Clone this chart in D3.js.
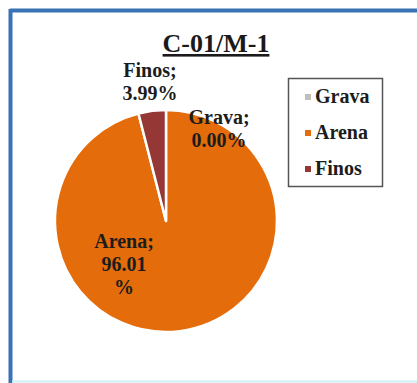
<!DOCTYPE html>
<html>
<head>
<meta charset="utf-8">
<script src="https://cdn.jsdelivr.net/npm/d3@7"></script>
<style>
  html, body { margin: 0; padding: 0; background: #ffffff; }
  svg { display: block; }
</style>
</head>
<body>
<svg id="chart" width="417" height="383"></svg>
<script>
// Soil fraction breakdown for sample C-01/M-1
const chartTitle = "C-01/M-1";
const categories = ["Grava", "Arena", "Finos"];
const percents = [0.00, 96.01, 3.99];
const labelTexts = [
  ["Grava;", "0.00%"],
  ["Arena;", "96.01", "%"],
  ["Finos;", "3.99%"]
];

const colors = ["#bfbfbf", "#e46c0a", "#953735"];

const W = 417, H = 383;
const svg = d3.select("#chart");

// frame
svg.append("rect").attr("x", 0).attr("y", 0).attr("width", W).attr("height", H).attr("fill", "#ffffff");
svg.append("line").attr("x1", 10).attr("x2", W).attr("y1", 10.5).attr("y2", 10.5)
  .attr("stroke", "#3a72b4").attr("stroke-width", 4);
svg.append("line").attr("x1", 10.5).attr("x2", 10.5).attr("y1", 9).attr("y2", 383)
  .attr("stroke", "#3a72b4").attr("stroke-width", 4);
svg.append("line").attr("x1", 12).attr("x2", W).attr("y1", 381.5).attr("y2", 381.5)
  .attr("stroke", "#c9f1f8").attr("stroke-width", 2);

// title
const title = svg.append("text")
  .attr("x", 216).attr("y", 52)
  .attr("text-anchor", "middle")
  .attr("font-family", "'Liberation Serif', 'Times New Roman', serif")
  .attr("font-weight", "bold")
  .attr("font-size", 26)
  .attr("fill", "#1a1a1a")
  .attr("text-decoration", "underline")
  .text(chartTitle);

// pie
const cx = 166, cy = 221, R = 111;
const pie = d3.pie().sort(null).value(d => d)(percents);
const arc = d3.arc().innerRadius(0).outerRadius(R);

const g = svg.append("g").attr("transform", `translate(${cx},${cy})`);
g.selectAll("path.slice")
  .data(pie)
  .join("path")
  .attr("class", "slice")
  .attr("d", arc)
  .attr("fill", (d, i) => colors[i])
  .attr("stroke", "#ffffff")
  .attr("stroke-width", 2.5)
  .attr("stroke-linejoin", "round");

// data labels, offsets relative to pie centre
const labelOffsets = [[53, -97], [-42, 27], [-16, -144]];
const lineH = 23;
pie.forEach((d, i) => {
  const t = g.append("text")
    .attr("text-anchor", "middle")
    .attr("font-family", "'Liberation Serif', 'Times New Roman', serif")
    .attr("font-weight", "bold")
    .attr("font-size", 20)
    .attr("fill", "#1c1c1c");
  labelTexts[i].forEach((s, k) => {
    t.append("tspan")
      .attr("x", labelOffsets[i][0])
      .attr("y", labelOffsets[i][1] + k * lineH)
      .text(s);
  });
});

// legend
const legend = svg.append("g").attr("transform", "translate(288,78)");
legend.append("rect")
  .attr("x", 0.5).attr("y", 0.5).attr("width", 94).attr("height", 108)
  .attr("fill", "#ffffff").attr("stroke", "#555555").attr("stroke-width", 1.5);
const item = legend.selectAll("g.item")
  .data(categories)
  .join("g")
  .attr("class", "item")
  .attr("transform", (d, i) => `translate(0,${25 + i * 36})`);
item.append("rect")
  .attr("x", 17).attr("y", -9).attr("width", 6).attr("height", 6)
  .attr("fill", (d, i) => colors[i]);
item.append("text")
  .attr("x", 27).attr("y", 0)
  .attr("font-family", "'Liberation Serif', 'Times New Roman', serif")
  .attr("font-weight", "bold")
  .attr("font-size", 20)
  .attr("fill", "#1c1c1c")
  .text(d => d);
</script>
</body>
</html>
